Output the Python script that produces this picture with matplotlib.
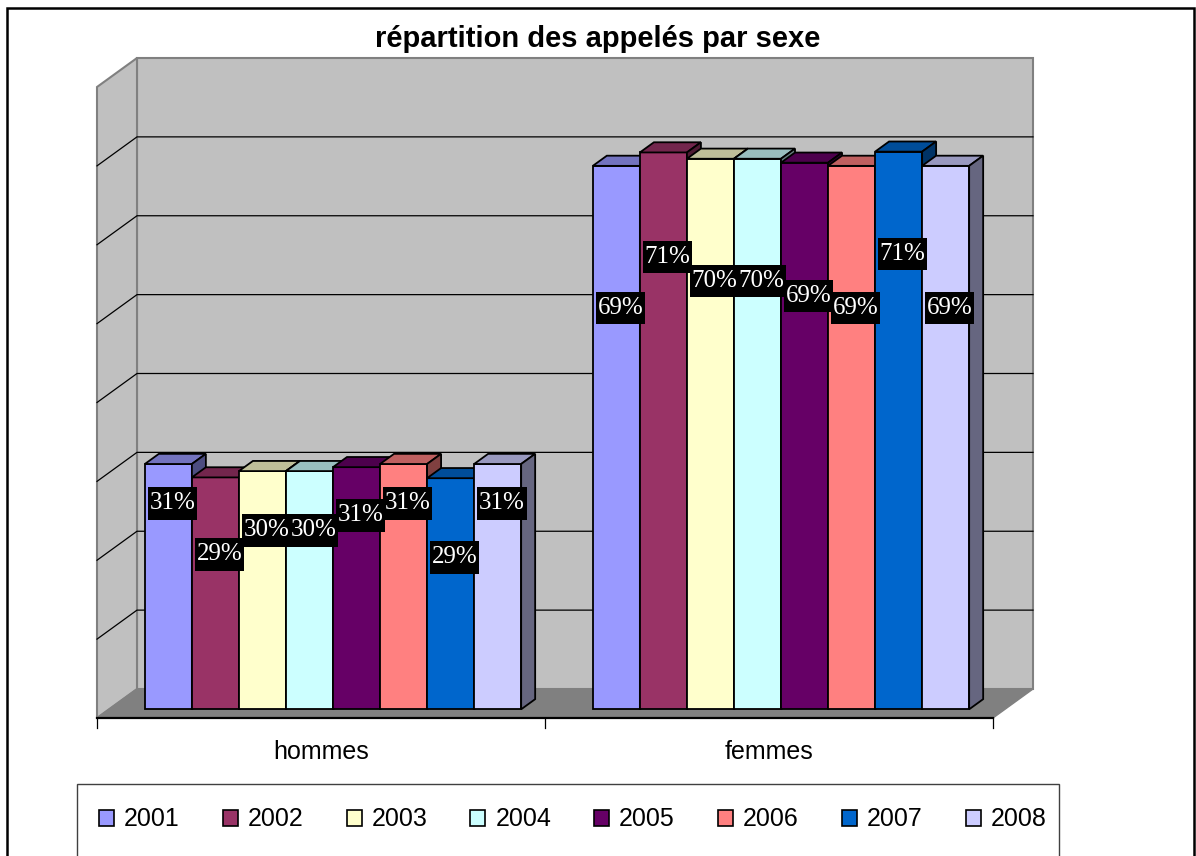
import matplotlib.pyplot as plt
from matplotlib.patches import Polygon, Rectangle, Patch
from matplotlib.colors import to_rgb

# data (share of callers, %)
categories = ["hommes", "femmes"]
years = ["2001", "2002", "2003", "2004", "2005", "2006", "2007", "2008"]
hommes = [31.1, 29.4, 30.2, 30.2, 30.7, 31.1, 29.3, 31.1]
femmes = [68.9, 70.6, 69.8, 69.8, 69.3, 68.9, 70.7, 68.9]
colors = ["#9999FF", "#993366", "#FFFFCC", "#CCFFFF",
          "#660066", "#FF8080", "#0066CC", "#CCCCFF"]

W, H = 1196, 856
fig = plt.figure(figsize=(W / 100, H / 100), dpi=100)
ax = fig.add_axes([0, 0, 1, 1])
ax.set_axis_off()

# pixel layout of the "3D" box: front floor edge x 97..993, y 718 (from top)
cat_px = 448.0
ppu = 7.8875          # pixels per percent
x0_px, y0_px = 97, 718
ax.set_xlim(-x0_px / cat_px, (W - x0_px) / cat_px)
ax.set_ylim(-(H - y0_px) / ppu, y0_px / ppu)

# oblique depth offset of the whole box
DX = 40 / cat_px
DY = 29 / ppu
ymax = 80
ncat = len(categories)

wall_c = "#c0c0c0"
edge_c = "#808080"
ax.add_patch(Polygon([(DX, DY), (ncat + DX, DY), (ncat + DX, ymax + DY), (DX, ymax + DY)],
                     closed=True, fc=wall_c, ec=edge_c, lw=1.5, zorder=1))
ax.add_patch(Polygon([(0, 0), (DX, DY), (DX, ymax + DY), (0, ymax)],
                     closed=True, fc=wall_c, ec=edge_c, lw=1.5, zorder=1))

for v in range(10, ymax, 10):
    ax.plot([0, DX, ncat + DX], [v, v + DY, v + DY], color="black", lw=0.9, zorder=2)

ax.add_patch(Polygon([(0, 0), (ncat, 0), (ncat + DX, DY), (DX, DY)],
                     closed=True, fc=edge_c, ec=edge_c, lw=1, zorder=3))
ax.plot([0, ncat], [0, 0], color="black", lw=1.6, zorder=3)
for c in range(ncat + 1):
    ax.plot([c, c], [0, -10 / ppu], color="black", lw=0.9, zorder=3)


def shade(col, k):
    r, g, b = to_rgb(col)
    return (r * k, g * k, b * k)


# bars sit between depth f0 and f0 + fd
f0, fd = 0.3, 0.35
bw = 0.105
start = (1 - bw * len(years)) / 2
ddx, ddy = fd * DX, fd * DY
yb = f0 * DY

for c, vals in enumerate([hommes, femmes]):
    for i, v in enumerate(vals):
        xl = c + start + i * bw + f0 * DX
        ax.bar(xl, v, width=bw, bottom=yb, align="edge", color=colors[i],
               edgecolor="black", lw=1.3, zorder=5)
        top = [(xl, yb + v), (xl + bw, yb + v),
               (xl + bw + ddx, yb + v + ddy), (xl + ddx, yb + v + ddy)]
        side = [(xl + bw, yb), (xl + bw + ddx, yb + ddy),
                (xl + bw + ddx, yb + v + ddy), (xl + bw, yb + v)]
        ax.add_patch(Polygon(top, closed=True, fc=shade(colors[i], 0.75),
                             ec="black", lw=1.3, zorder=5))
        ax.add_patch(Polygon(side, closed=True, fc=shade(colors[i], 0.5),
                             ec="black", lw=1.3, zorder=5))

# Excel puts the labels lower the smaller the value is within a category
for c, vals in enumerate([hommes, femmes]):
    mean_v = sum(vals) / len(vals)
    for i, v in enumerate(vals):
        xl = c + start + i * bw + f0 * DX
        ly = yb + 0.77 * mean_v + 3.8 * (v - mean_v)
        ax.text(xl + bw / 2 + 0.3 * ddx, ly, "%d%%" % round(v),
                ha="center", va="center", color="white", fontsize=18,
                family="Liberation Serif", zorder=20,
                bbox=dict(boxstyle="square,pad=0.07", mutation_aspect=3.0,
                          fc="black", ec="none"))

for c, name in enumerate(categories):
    ax.text(c + 0.5, -41 / ppu, name, ha="center", va="baseline",
            fontsize=18, family="Liberation Sans")

fig.text(597.5 / W, 1 - 47 / H, "répartition des appelés par sexe",
         ha="center", va="baseline", fontsize=21, fontweight="bold",
         family="Liberation Sans")

# legend, its frame runs off the bottom of the picture
handles = [Patch(fc=col, ec="black", lw=1.2) for col in colors]
fig.legend(handles, years, ncol=len(years), loc="center left",
           bbox_to_anchor=(99 / W, 1 - 819.5 / H), frameon=False,
           prop={"family": "Liberation Sans", "size": 18},
           handlelength=0.6, handleheight=0.6, handletextpad=0.4,
           columnspacing=1.72, borderpad=0, borderaxespad=0)
fig.patches.append(Rectangle((77 / W, -20 / H), (1059 - 77) / W, (856 + 20 - 784) / H,
                             transform=fig.transFigure, fill=False,
                             ec="#404040", lw=1))
fig.patches.append(Rectangle((7 / W, -20 / H), (1194 - 7) / W, (856 + 20 - 8) / H,
                             transform=fig.transFigure, fill=False,
                             ec="black", lw=1.8))

fig.savefig("out.png", dpi=100)
